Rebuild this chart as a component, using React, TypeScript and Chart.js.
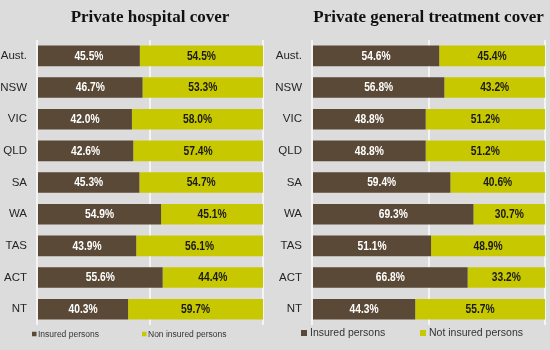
import React, { useEffect, useRef } from "react";
import { Chart, registerables } from "chart.js";

Chart.register(...registerables);

const states = ["Aust.", "NSW", "VIC", "QLD", "SA", "WA", "TAS", "ACT", "NT"];
const hospitalInsured = [45.5, 46.7, 42.0, 42.6, 45.3, 54.9, 43.9, 55.6, 40.3];
const hospitalNotInsured = [54.5, 53.3, 58.0, 57.4, 54.7, 45.1, 56.1, 44.4, 59.7];
const generalInsured = [54.6, 56.8, 48.8, 48.8, 59.4, 69.3, 51.1, 66.8, 44.3];
const generalNotInsured = [45.4, 43.2, 51.2, 51.2, 40.6, 30.7, 48.9, 33.2, 55.7];
const xTicks = [0, 50, 100];

const BROWN = "#594936";
const YELLOW = "#c8c800";
const BG = "#dcdcdc";
const SANS = "'Liberation Sans', Arial, sans-serif";

const valueLabels = {
  id: "valueLabels",
  afterDatasetsDraw(chart: any) {
    const ctx = chart.ctx;
    const squeeze = 0.82;
    chart.data.datasets.forEach((ds: any, di: number) => {
      const meta = chart.getDatasetMeta(di);
      meta.data.forEach((el: any, i: number) => {
        const c = el.getCenterPoint();
        ctx.save();
        ctx.translate(c.x, c.y + 0.5);
        ctx.scale(squeeze, 1);
        ctx.font = "bold 12.5px " + SANS;
        ctx.textAlign = "center";
        ctx.textBaseline = "middle";
        ctx.fillStyle = di === 0 ? "#ffffff" : "#1a1a1a";
        ctx.fillText(Number(ds.data[i]).toFixed(1) + "%", 0, 0);
        ctx.restore();
      });
    });
  },
};

const boxLegend = {
  id: "boxLegend",
  afterDraw(chart: any, _args: any, opts: any) {
    const ctx = chart.ctx;
    const left = chart.chartArea.left;
    ctx.save();
    ctx.font = opts.fontSize + "px " + SANS;
    ctx.textBaseline = "middle";
    ctx.textAlign = "left";
    chart.data.datasets.forEach((ds: any, i: number) => {
      const bx = left + opts.boxX[i];
      const tx = left + opts.textX[i];
      ctx.fillStyle = ds.backgroundColor;
      ctx.fillRect(bx, opts.y - opts.box / 2, opts.box, opts.box);
      ctx.fillStyle = "#333333";
      ctx.fillText(ds.label, tx, opts.y + 0.5);
    });
    ctx.restore();
  },
};

type PanelProps = {
  title: string;
  insured: number[];
  notInsured: number[];
  notLabel: string;
  padRight: number;
  legend: any;
};

function Panel({ title, insured, notInsured, notLabel, padRight, legend }: PanelProps) {
  const ref = useRef<HTMLCanvasElement | null>(null);
  useEffect(() => {
    if (!ref.current) return;
    const chart = new Chart(ref.current, {
      type: "bar",
      data: {
        labels: states,
        datasets: [
          { label: "Insured persons", data: insured, backgroundColor: BROWN, borderWidth: 0 },
          { label: notLabel, data: notInsured, backgroundColor: YELLOW, borderWidth: 0 },
        ],
      },
      options: {
        indexAxis: "y",
        responsive: false,
        animation: false,
        maintainAspectRatio: false,
        layout: { padding: { left: 0, right: padRight, top: 0, bottom: 25 } },
        datasets: { bar: { barPercentage: 0.65, categoryPercentage: 1 } },
        scales: {
          x: {
            stacked: true,
            min: 0,
            max: 100,
            afterBuildTicks: (scale: any) => {
              scale.ticks = xTicks.map((v) => ({ value: v }));
            },
            ticks: { display: false },
            grid: { color: "#f4f4f4", lineWidth: 2, drawTicks: false },
            border: { display: false },
          },
          y: {
            stacked: true,
            afterFit: (scale: any) => {
              scale.width = 37;
            },
            ticks: {
              padding: 10,
              color: "#262626",
              font: { family: SANS, size: 11.5 },
            },
            grid: { display: false, drawTicks: false },
            border: { display: false },
          },
        },
        plugins: {
          legend: { display: false },
          tooltip: { enabled: false },
          title: {
            display: true,
            text: title,
            fullSize: false,
            color: "#111111",
            font: { family: "'Liberation Serif', 'Times New Roman', serif", size: 17, weight: "bold" },
            padding: { top: 7, bottom: 12.6 },
          },
          boxLegend: legend,
        },
      } as any,
      plugins: [valueLabels, boxLegend],
    });
    return () => chart.destroy();
  }, []);
  return <canvas ref={ref} width={275} height={350} style={{ display: "block" }} />;
}

export default function App() {
  return (
    <div style={{ position: "absolute", left: 0, top: 0, width: 550, height: 350, background: BG, overflow: "hidden" }}>
      <div style={{ position: "absolute", left: 0, top: 0 }}>
        <Panel
          title="Private hospital cover"
          insured={hospitalInsured}
          notInsured={hospitalNotInsured}
          notLabel="Non insured persons"
          padRight={12}
          legend={{ fontSize: 8.5, box: 4.5, y: 334, boxX: [-5, 105], textX: [1, 111] }}
        />
      </div>
      <div style={{ position: "absolute", left: 275, top: 0 }}>
        <Panel
          title="Private general treatment cover"
          insured={generalInsured}
          notInsured={generalNotInsured}
          notLabel="Not insured persons"
          padRight={5}
          legend={{ fontSize: 10.5, box: 6, y: 333, boxX: [-11, 108], textX: [-2, 117] }}
        />
      </div>
    </div>
  );
}
